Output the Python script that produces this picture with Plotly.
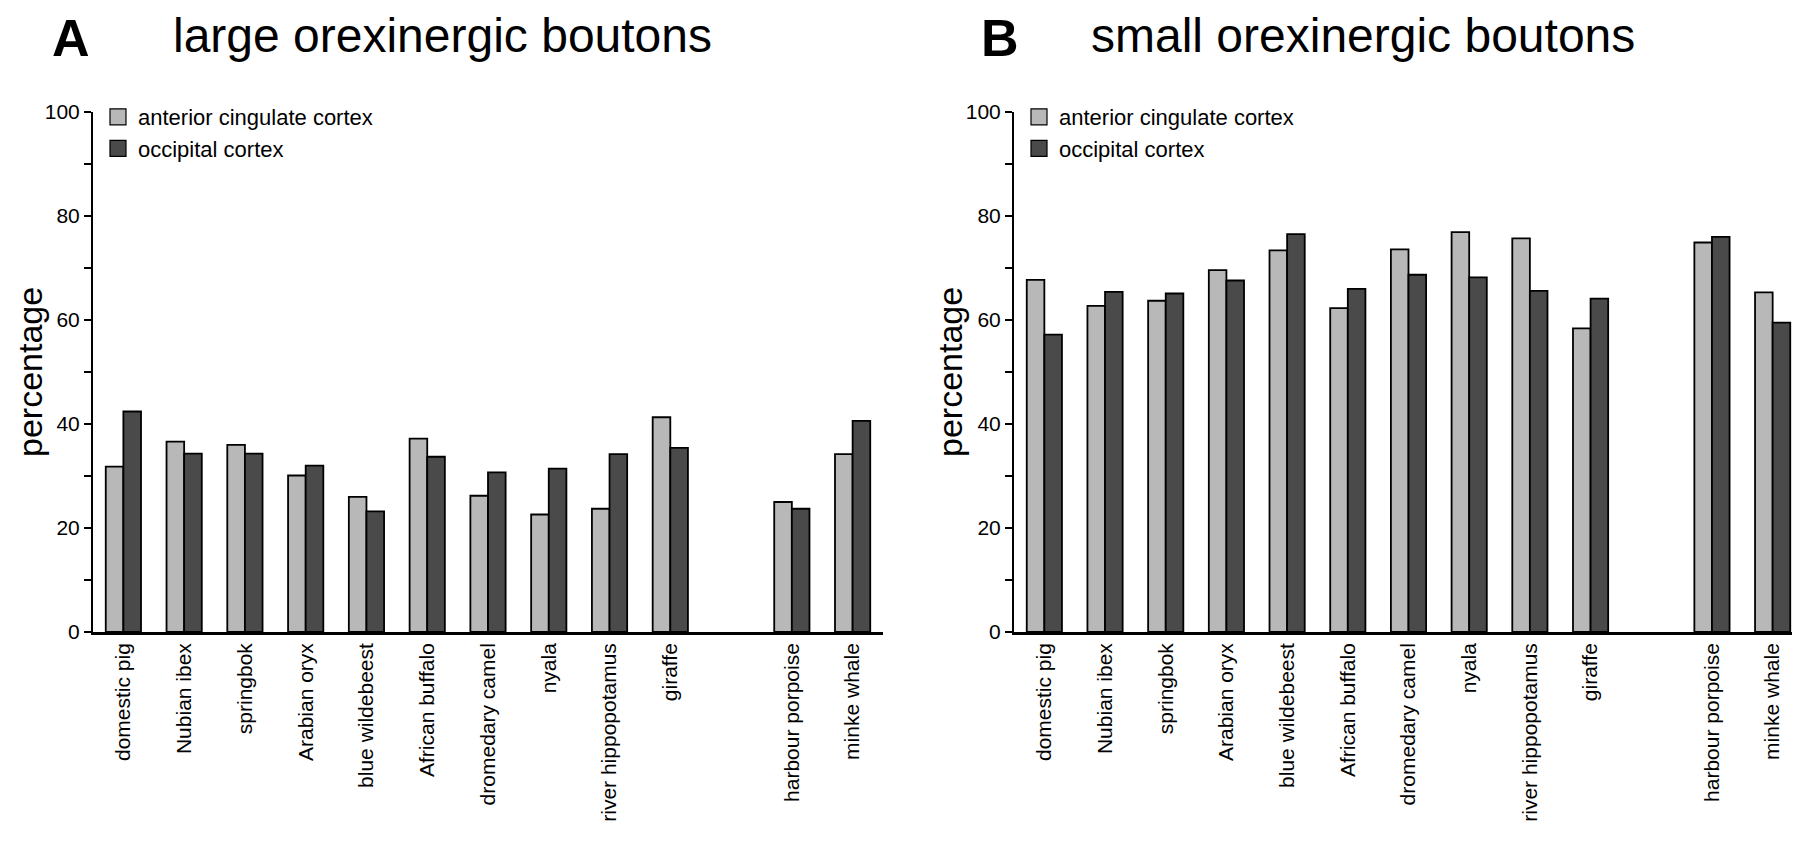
import plotly.graph_objects as go

species = ["domestic pig", "Nubian ibex", "springbok", "Arabian oryx", "blue wildebeest",
           "African buffalo", "dromedary camel", "nyala", "river hippopotamus", "giraffe",
           "harbour porpoise", "minke whale"]
# slot positions on the category axis (one empty slot before the cetaceans)
slots = [0, 1, 2, 3, 4, 5, 6, 7, 8, 9, 11, 12]

large_acc = [31.8, 36.6, 36.0, 30.1, 26.0, 37.2, 26.2, 22.6, 23.7, 41.3, 25.0, 34.2]
large_occ = [42.4, 34.3, 34.3, 32.0, 23.2, 33.7, 30.7, 31.4, 34.2, 35.4, 23.7, 40.6]
small_acc = [67.7, 62.7, 63.7, 69.6, 73.4, 62.3, 73.6, 76.9, 75.7, 58.4, 74.9, 65.3]
small_occ = [57.2, 65.4, 65.1, 67.6, 76.5, 66.0, 68.7, 68.2, 65.6, 64.1, 76.0, 59.5]

series_names = ["anterior cingulate cortex", "occipital cortex"]
colors = ["#b8b8b8", "#4a4a4a"]
ytick_vals = [0, 10, 20, 30, 40, 50, 60, 70, 80, 90, 100]
ytick_text = ["0", "", "20", "", "40", "", "60", "", "80", "", "100"]

FONT = "Liberation Sans, Arial, Helvetica, sans-serif"

fig = go.Figure()

panels = [
    ("x", "y", "legend", [large_acc, large_occ]),
    ("x2", "y2", "legend2", [small_acc, small_occ]),
]
for xa, ya, lg, data in panels:
    for name, col, vals in zip(series_names, colors, data):
        fig.add_trace(go.Bar(
            x=slots, y=vals, xaxis=xa, yaxis=ya, name=name,
            marker=dict(color=col, line=dict(color="black", width=1.8)),
            showlegend=False, offsetgroup=name,
        ))
        fig.add_trace(go.Scatter(
            x=[None], y=[None], xaxis=xa, yaxis=ya, name=name, mode="markers",
            marker=dict(symbol="square", size=16, color=col, line=dict(color="black", width=1.2)),
            legend=lg, showlegend=True,
        ))

xaxis_common = dict(
    range=[-0.5, 12.5], tickmode="array", tickvals=slots, ticktext=species,
    tickangle=-90, ticks="", showline=True, linecolor="black", linewidth=2.5,
    showgrid=False, zeroline=False, tickfont=dict(family=FONT, size=21, color="black"),
    automargin=False, fixedrange=True,
)
yaxis_common = dict(
    range=[0, 100], tickmode="array", tickvals=ytick_vals, ticktext=ytick_text,
    ticks="outside", ticklen=7, tickwidth=1.5, tickcolor="black",
    showline=True, linecolor="black", linewidth=2, showgrid=False, zeroline=False,
    tickfont=dict(family=FONT, size=21, color="black"), automargin=False,
)

ydom = [(843 - 624) / 843, (843 - 104) / 843]

fig.update_layout(
    width=1800, height=843,
    margin=dict(l=0, r=0, t=0, b=0),
    paper_bgcolor="white", plot_bgcolor="white",
    barmode="group", bargap=0.42, bargroupgap=0.0,
    font=dict(family=FONT, color="black"),
    xaxis=dict(domain=[85 / 1800, 875 / 1800], anchor="y", **xaxis_common),
    yaxis=dict(domain=ydom, anchor="x", **yaxis_common),
    xaxis2=dict(domain=[1006 / 1800, 1795 / 1800], anchor="y2", **xaxis_common),
    yaxis2=dict(domain=ydom, anchor="x2", **yaxis_common),
    legend=dict(x=90 / 1800, y=1 - 88 / 843, xanchor="left", yanchor="top",
                font=dict(family=FONT, size=22, color="black"), bgcolor="rgba(0,0,0,0)",
                tracegroupgap=0, itemwidth=30),
    legend2=dict(x=1011 / 1800, y=1 - 88 / 843, xanchor="left", yanchor="top",
                 font=dict(family=FONT, size=22, color="black"), bgcolor="rgba(0,0,0,0)",
                 tracegroupgap=0, itemwidth=30),
)

annotations = [
    dict(text="<b>A</b>", x=43 / 1800, size=52),
    dict(text="large orexinergic boutons", x=164 / 1800, size=48),
    dict(text="<b>B</b>", x=972 / 1800, size=52),
    dict(text="small orexinergic boutons", x=1082 / 1800, size=48),
]
for a in annotations:
    fig.add_annotation(text=a["text"], x=a["x"], y=1.0, xref="paper", yref="paper",
                       xanchor="left", yanchor="top", showarrow=False, borderpad=0,
                       font=dict(family=FONT, size=a["size"], color="black"))

for xl in [2 / 1800, 922 / 1800]:
    fig.add_annotation(text="percentage", x=xl, y=(ydom[0] + ydom[1]) / 2,
                       xref="paper", yref="paper", xanchor="left", yanchor="middle",
                       textangle=-90, showarrow=False, borderpad=0,
                       font=dict(family=FONT, size=34, color="black"))

fig.write_html("out.html")
